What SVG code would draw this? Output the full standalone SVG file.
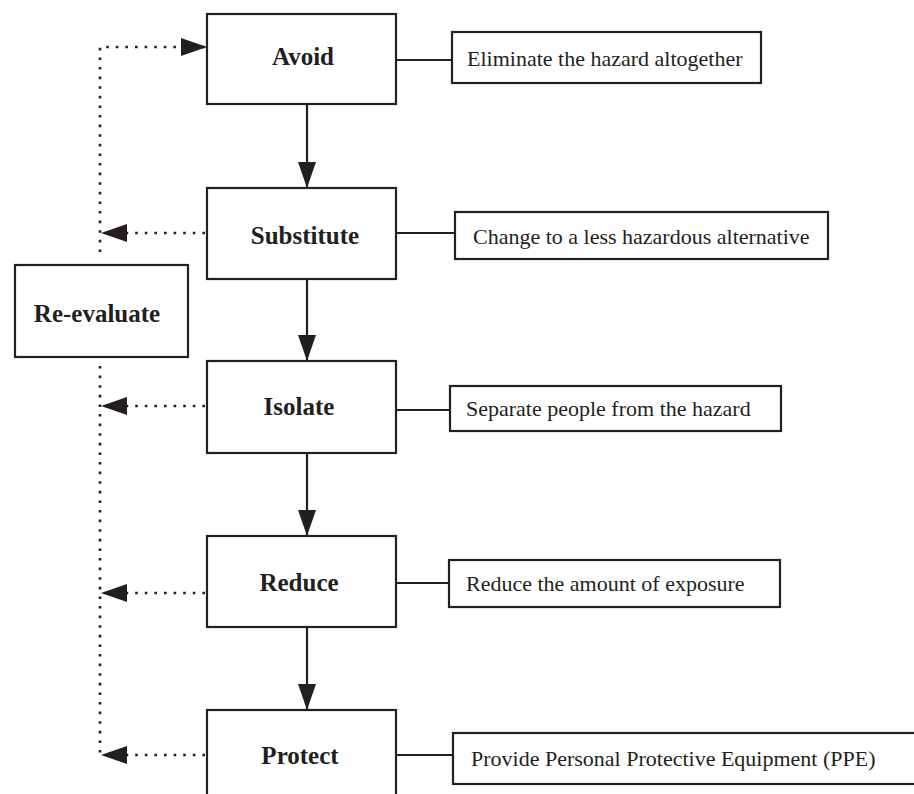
<svg xmlns="http://www.w3.org/2000/svg" width="914" height="794" viewBox="0 0 914 794">
  <style>
    .box { fill: #ffffff; stroke: #231f20; stroke-width: 2.2; }
    .step { font-family: "Liberation Serif", "Times New Roman", serif; font-weight: bold; font-size: 25px; fill: #231f20; text-anchor: middle; }
    .note { font-family: "Liberation Serif", "Times New Roman", serif; font-size: 22px; fill: #231f20; }
    .solid { fill: none; stroke: #231f20; stroke-width: 2.2; }
    .dotted { fill: none; stroke: #231f20; stroke-width: 2.6; stroke-dasharray: 2.6 7; }
  </style>
  <defs>
    <marker id="head" viewBox="0 0 26 18" refX="26" refY="9" markerWidth="26" markerHeight="18" markerUnits="userSpaceOnUse" orient="auto">
      <path d="M0,0 L26,9 L0,18 Z" fill="#231f20"/>
    </marker>
  </defs>

  <rect width="914" height="794" fill="#ffffff"/>

  <!-- connectors -->
  <g id="connectors">
    <!-- main sequence -->
    <path class="solid" d="M307,104 V188" marker-end="url(#head)"/>
    <path class="solid" d="M307,279 V361" marker-end="url(#head)"/>
    <path class="solid" d="M307,453 V536" marker-end="url(#head)"/>
    <path class="solid" d="M307,627 V710" marker-end="url(#head)"/>
    <!-- step to description links -->
    <path class="solid" d="M396,60 H452"/>
    <path class="solid" d="M396,233 H455"/>
    <path class="solid" d="M396,410 H450"/>
    <path class="solid" d="M396,583 H449"/>
    <path class="solid" d="M396,755 H453"/>
    <!-- re-evaluation loop -->
    <path class="dotted" d="M100,252 V47 H207" marker-end="url(#head)"/>
    <path class="dotted" d="M100,366 V755"/>
    <path class="dotted" d="M205,233 H101" marker-end="url(#head)"/>
    <path class="dotted" d="M205,406 H101" marker-end="url(#head)"/>
    <path class="dotted" d="M205,593 H101" marker-end="url(#head)"/>
    <path class="dotted" d="M205,755 H101" marker-end="url(#head)"/>
  </g>

  <!-- steps -->
  <g id="avoid">
    <rect class="box" x="207" y="14" width="189" height="90"/>
    <text class="step" x="303" y="65">Avoid</text>
  </g>
  <g id="substitute">
    <rect class="box" x="207" y="188" width="189" height="91"/>
    <text class="step" x="305" y="244">Substitute</text>
  </g>
  <g id="isolate">
    <rect class="box" x="207" y="361" width="189" height="92"/>
    <text class="step" x="299" y="415">Isolate</text>
  </g>
  <g id="reduce">
    <rect class="box" x="207" y="536" width="189" height="91"/>
    <text class="step" x="299" y="591">Reduce</text>
  </g>
  <g id="protect">
    <rect class="box" x="207" y="710" width="189" height="100"/>
    <text class="step" x="300" y="764">Protect</text>
  </g>
  <g id="re-evaluate">
    <rect class="box" x="15" y="265" width="173" height="92"/>
    <text class="step" x="97" y="322">Re-evaluate</text>
  </g>

  <!-- descriptions -->
  <g id="eliminate">
    <rect class="box" x="452" y="32" width="309" height="51"/>
    <text class="note" x="467" y="66">Eliminate the hazard altogether</text>
  </g>
  <g id="change">
    <rect class="box" x="455" y="212" width="373" height="47"/>
    <text class="note" x="473" y="244">Change to a less hazardous alternative</text>
  </g>
  <g id="separate">
    <rect class="box" x="450" y="386" width="331" height="45"/>
    <text class="note" x="466" y="416">Separate people from the hazard</text>
  </g>
  <g id="reduce-exposure">
    <rect class="box" x="449" y="560" width="331" height="47"/>
    <text class="note" x="466" y="591">Reduce the amount of exposure</text>
  </g>
  <g id="ppe">
    <rect class="box" x="453" y="733" width="470" height="51"/>
    <text class="note" x="471" y="766">Provide Personal Protective Equipment (PPE)</text>
  </g>
</svg>
